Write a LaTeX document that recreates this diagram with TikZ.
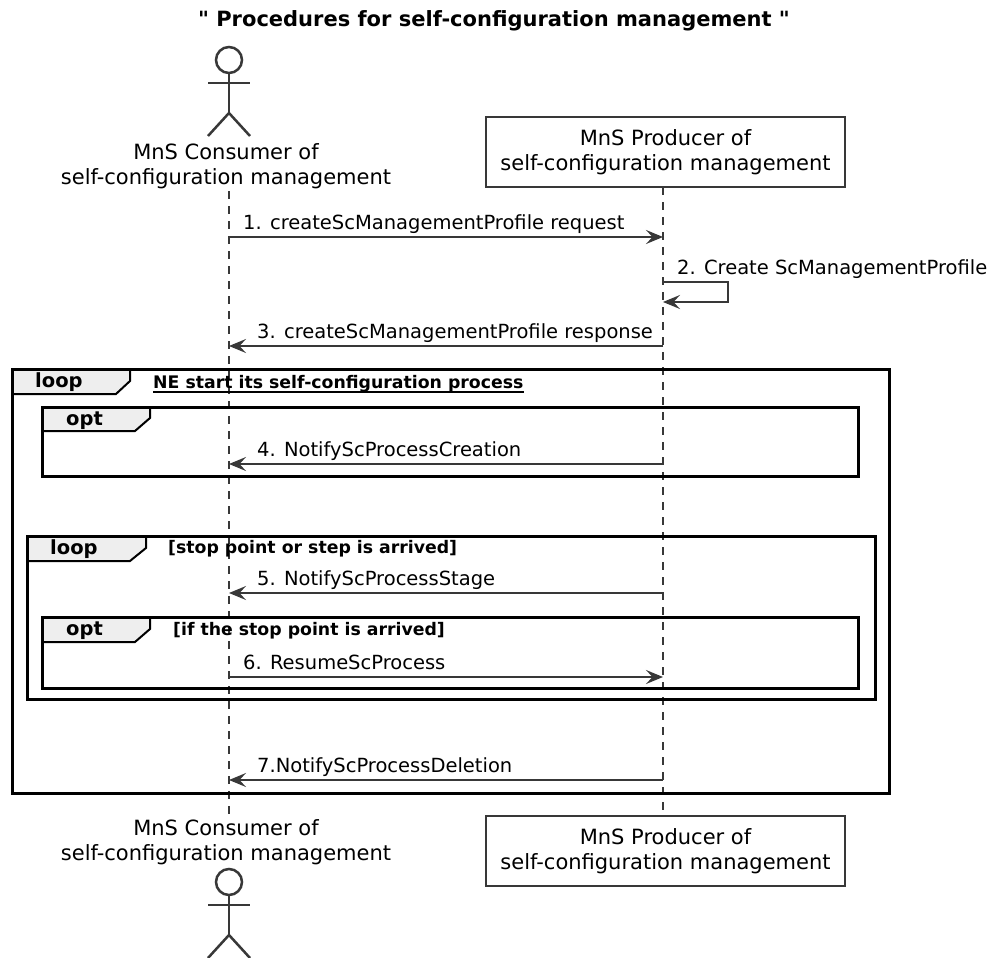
\documentclass[tikz,border=0pt]{standalone}
\usepackage{fontspec}
\setmainfont{DejaVu Sans}
\newfontfamily\titlefont{DejaVu Sans}
\usetikzlibrary{arrows.meta}
\definecolor{ln}{HTML}{383838}
\definecolor{tabfill}{HTML}{EEEEEE}
\tikzset{
  msgtxt/.style={anchor=base west, inner sep=0pt, font=\fontsize{19.5}{23}\selectfont},
  parttxt/.style={align=center, inner sep=0pt, font=\fontsize{21}{25.5}\selectfont},
  partbox/.style={draw=ln, line width=2pt, fill=white, minimum width=359pt, minimum height=70pt, inner sep=0pt, align=center, font=\fontsize{21}{25.5}\selectfont},
  msg/.style={draw=ln, line width=1.5pt, -{Stealth[length=17pt,width=14pt,inset=6.5pt]}},
  life/.style={draw=ln, line width=1.5pt, dash pattern=on 7.5pt off 7.5pt},
  frame/.style={draw=black, line width=3pt},
  tabedge/.style={draw=black, line width=2pt},
  lbl/.style={anchor=base west, inner sep=0pt, font=\bfseries\fontsize{19.5}{23}\selectfont},
  cond/.style={anchor=base west, inner sep=0pt, font=\bfseries\fontsize{17.3}{20}\selectfont},
  actor/.style={draw=ln, line width=2.5pt}
}
\begin{document}
\begin{tikzpicture}[x=1pt,y=-1pt]
\useasboundingbox (0,0) rectangle (989,958);
\fill[white] (0,0) rectangle (989,958);

% title
\node[anchor=base, inner sep=0pt, font=\titlefont\bfseries\fontsize{21}{25}\selectfont] (title) at (494,27) {" Procedures for self-configuration management "};

% consumer (top)
\draw[actor] (229,60) circle[radius=13];
\draw[actor] (208,83) -- (250,83);
\draw[actor] (229,73) -- (229,113);
\draw[actor] (208,136) -- (229,113) -- (250,136);
\node[parttxt] (ctop) at (226,166) {MnS Consumer of\\self-configuration management};

% producer (top)
\node[partbox] (ptop) at (665.5,152) {MnS Producer of\\self-configuration management};

% consumer (bottom)
\node[parttxt] (cbot) at (226,842) {MnS Consumer of\\self-configuration management};
\draw[actor] (229,882) circle[radius=13];
\draw[actor] (208,905) -- (250,905);
\draw[actor] (229,895) -- (229,935);
\draw[actor] (208,958) -- (229,935) -- (250,958);

% producer (bottom)
\node[partbox] (pbot) at (665.5,851) {MnS Producer of\\self-configuration management};

% lifelines
\coordinate (cls) at (229,191);
\coordinate (cle) at (229,816);
\coordinate (pls) at (663,187);
\coordinate (ple) at (663,816);
\draw[life] (cls) -- (cle);
\draw[life] (pls) -- (ple);

% message 1
\coordinate (c1) at (229,237); \coordinate (p1) at (663,237);
\draw[msg] (c1) -- (p1);
\node[msgtxt] (m1) at (243,229) {1. createScManagementProfile request};

% message 2 (self)
\coordinate (p2a) at (663,282); \coordinate (p2b) at (663,302);
\coordinate (p2c) at (728,282); \coordinate (p2d) at (728,302);
\draw[msg] (p2a) -- (p2c) -- (p2d) -- (p2b);
\node[msgtxt] (m2) at (677,274) {2. Create ScManagementProfile};

% message 3
\coordinate (c3) at (229,346); \coordinate (p3) at (663,346);
\draw[msg] (p3) -- (c3);
\node[msgtxt] (m3) at (257,338) {3. createScManagementProfile response};

% outer loop
\fill[tabfill] (12,369) -- (130,369) -- (130,381) -- (116,394) -- (12,394) -- cycle;
\draw[tabedge] (130,369) -- (130,381) -- (116,394) -- (12,394);
\draw[frame] (12,369) rectangle (889,793);
\node[lbl] (l0) at (35,387) {loop};
\node[cond] (c0) at (153,388) {NE start its self-configuration process};
\draw[line width=1.3pt] (c0.south west) -- (c0.south east);

% opt 1
\fill[tabfill] (42,407) -- (150,407) -- (150,418) -- (135,431) -- (42,431) -- cycle;
\draw[tabedge] (150,407) -- (150,418) -- (135,431) -- (42,431);
\draw[frame] (42,407) rectangle (858,476);
\node[lbl] (l1) at (66,425) {opt};

% message 4
\coordinate (c4) at (229,464); \coordinate (p4) at (663,464);
\draw[msg] (p4) -- (c4);
\node[msgtxt] (m4) at (257,456) {4. NotifyScProcessCreation};

% inner loop
\fill[tabfill] (27,536) -- (146,536) -- (146,548) -- (130,561) -- (27,561) -- cycle;
\draw[tabedge] (146,536) -- (146,548) -- (130,561) -- (27,561);
\draw[frame] (27,536) rectangle (875,699);
\node[lbl] (l2) at (50,554) {loop};
\node[cond] (c2) at (168,553) {[stop point or step is arrived]};

% message 5
\coordinate (c5) at (229,593); \coordinate (p5) at (663,593);
\draw[msg] (p5) -- (c5);
\node[msgtxt] (m5) at (257,585) {5. NotifyScProcessStage};

% inner opt
\fill[tabfill] (42,617) -- (150,617) -- (150,629) -- (135,642) -- (42,642) -- cycle;
\draw[tabedge] (150,617) -- (150,629) -- (135,642) -- (42,642);
\draw[frame] (42,617) rectangle (858,688);
\node[lbl] (l3) at (66,635) {opt};
\node[cond] (c3l) at (173,635) {[if the stop point is arrived]};

% message 6
\coordinate (c6) at (229,677); \coordinate (p6) at (663,677);
\draw[msg] (c6) -- (p6);
\node[msgtxt] (m6) at (243,669) {6. ResumeScProcess};

% message 7
\coordinate (c7) at (229,780); \coordinate (p7) at (663,780);
\draw[msg] (p7) -- (c7);
\node[msgtxt] (m7) at (257,772) {7.NotifyScProcessDeletion};
\end{tikzpicture}
\end{document}
